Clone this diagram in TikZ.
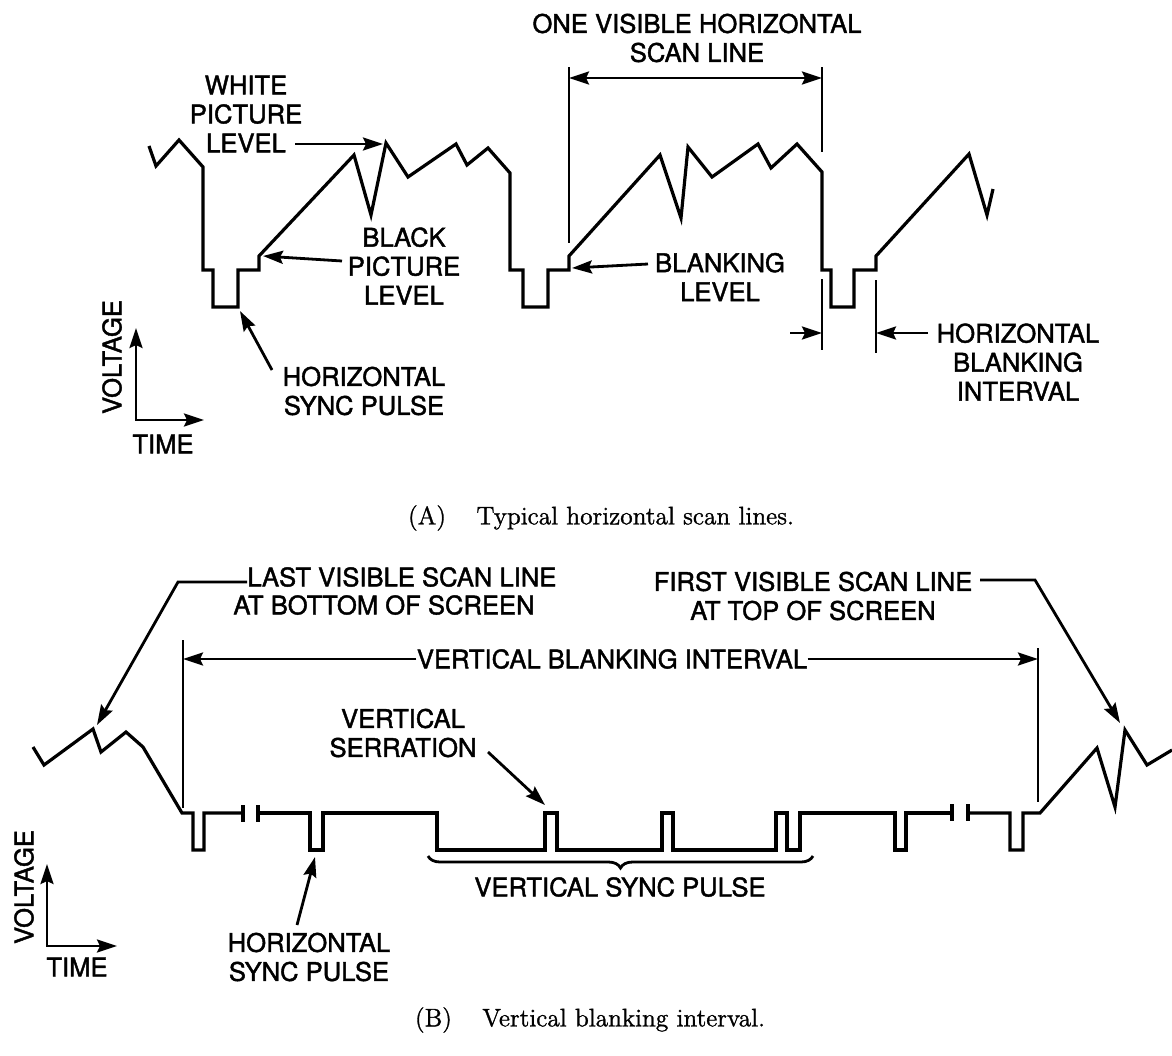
\documentclass[tikz,border=0pt]{standalone}
\usepackage{fontspec}
\newfontfamily\lab[FakeBold=1.6]{TeX Gyre Heros}
\newfontfamily\capf[FakeBold=1.2]{Latin Modern Roman}
\usetikzlibrary{arrows.meta,decorations.pathreplacing}
\begin{document}
\begin{tikzpicture}[x=0.5pt,y=-0.5pt,
  wave/.style={line width=1.6pt},
  lead/.style={line width=1.4pt},
  myarr/.tip={Stealth[length=10pt,width=6.5pt,inset=1.5pt]},
  arr/.style={lead,-myarr},
  dbl/.style={lead,myarr-myarr},
  ext/.style={line width=1.4pt},
  lbl/.style={font=\lab\fontsize{12.8pt}{14.5pt}\selectfont, align=center, inner sep=0pt},
  captext/.style={font=\capf\fontsize{12.7pt}{14pt}\selectfont, inner sep=0pt}]
\useasboundingbox (0,0) rectangle (1172,1055);

% ================= (A) =================
\draw[wave] (149,146) -- (156,166) -- (179,140) -- (203,167) -- (203,270) -- (213,270) -- (213,307) -- (238,307) -- (238,270) -- (259,270) -- (259,256)
  -- (354,155) -- (371,215) -- (386,143) -- (408,177) -- (456,144) -- (467,165) -- (488,148) -- (510,173) -- (510,270) -- (523,270) -- (523,307) -- (548,307) -- (548,270) -- (569,270) -- (569,256)
  -- (660,155) -- (681,218) -- (688,147) -- (712,177) -- (758,144) -- (771,168) -- (797,144) -- (822,172) -- (822,270) -- (831,270) -- (831,307) -- (854,307) -- (854,270) -- (876,270) -- (876,256)
  -- (969,154) -- (987,215) -- (993,189);

% one visible scan line dimension
\draw[ext] (569,67) -- (569,243);
\draw[ext] (822,67) -- (822,152);
\coordinate (d1) at (569,78);
\coordinate (d2) at (822,78);
\draw[dbl] (d1) -- (d2);
\node[lbl] (onevis) at (697,38) {ONE VISIBLE HORIZONTAL\\SCAN LINE};

% white picture level
\node[lbl] (white) at (246,114) {WHITE\\PICTURE\\LEVEL};
\coordinate (w1) at (295,144);
\coordinate (w2) at (383,144);
\draw[arr] (w1) -- (w2);

% black picture level
\node[lbl] (black) at (404,266) {BLACK\\PICTURE\\LEVEL};
\coordinate (b1) at (342,261);
\coordinate (b2) at (263,256);
\draw[arr] (b1) -- (b2);

% blanking level
\node[lbl] (blank) at (720,277) {BLANKING\\LEVEL};
\coordinate (bl1) at (648,264);
\coordinate (bl2) at (572,268);
\draw[arr] (bl1) -- (bl2);

% horizontal sync pulse (A)
\node[lbl] (hsa) at (364,391) {HORIZONTAL\\SYNC PULSE};
\coordinate (h1) at (272,370);
\coordinate (h2) at (240,311);
\draw[arr] (h1) -- (h2);

% horizontal blanking interval
\draw[ext] (822,279) -- (822,350);
\draw[ext] (876,280) -- (876,353);
\node[lbl] (hbi) at (1018,362) {HORIZONTAL\\BLANKING\\INTERVAL};
\coordinate (hb1) at (790,333);
\coordinate (hb2) at (822,333);
\coordinate (hb3) at (928,333);
\coordinate (hb4) at (876,333);
\draw[arr] (hb1) -- (hb2);
\draw[arr] (hb3) -- (hb4);

% axes (A)
\coordinate (ax0) at (136,420);
\coordinate (ax1) at (136,328);
\coordinate (ax2) at (204,420);
\draw[lead,myarr-myarr] (ax1) -- (ax0) -- (ax2);
\node[lbl,rotate=90] (voltA) at (112,357) {VOLTAGE};
\node[lbl] (timeA) at (163,444) {TIME};

\node[captext] (capA) at (601,518) {(A)\hspace{1.2em}Typical horizontal scan lines.};

% ================= (B) =================
\draw[wave] (33,747) -- (44,765) -- (93,729) -- (101,752) -- (126,732) -- (143,747) -- (182,813) -- (193,813) -- (193,850) -- (204,850) -- (204,813) -- (243,813);
\draw[wave] (243,805) -- (243,822);
\draw[wave] (258,805) -- (258,822);
\draw[wave] (258,813) -- (310,813) -- (310,850) -- (323,850) -- (323,813) -- (437,813) -- (437,850) -- (545,850) -- (545,813) -- (557,813) -- (557,850)
  -- (662,850) -- (662,813) -- (673,813) -- (673,850) -- (776,850) -- (776,813) -- (787,813) -- (787,850) -- (800,850) -- (800,813)
  -- (895,813) -- (895,850) -- (906,850) -- (906,813) -- (952,813);
\draw[wave] (952,804) -- (952,821);
\draw[wave] (968,804) -- (968,821);
\draw[wave] (968,813) -- (1010,813) -- (1010,850) -- (1023,850) -- (1023,813) -- (1040,813) -- (1097,748) -- (1115,807) -- (1125,730) -- (1147,765) -- (1172,750);

% vertical blanking interval
\draw[ext] (183,640) -- (183,808);
\draw[ext] (1038,648) -- (1038,802);
\node[lbl] (vbi) at (612,659) {VERTICAL BLANKING INTERVAL};
\coordinate (v1) at (183,659);
\coordinate (v2) at (1038,659);
\draw[arr] (vbi.west) -- (v1);
\draw[arr] (vbi.east) -- (v2);

% last visible scan line
\node[lbl,anchor=west] (last1) at (247,577) {LAST VISIBLE SCAN LINE};
\node[lbl,anchor=west] (last2) at (233,605) {AT BOTTOM OF SCREEN};
\coordinate (l1) at (178,582);
\coordinate (l2) at (97,725);
\draw[arr] (last1.west |- l1) -- (l1) -- (l2);

% first visible scan line
\node[lbl] (first) at (813,596) {FIRST VISIBLE SCAN LINE\\AT TOP OF SCREEN};
\coordinate (f0) at (980,580);
\coordinate (f1) at (1035,580);
\coordinate (f2) at (1120,723);
\draw[arr] (f0) -- (f1) -- (f2);

% vertical serration
\node[lbl] (serr) at (403,733) {VERTICAL\\SERRATION};
\coordinate (s1) at (488,752);
\coordinate (s2) at (545,805);
\draw[arr] (s1) -- (s2);

% vertical sync pulse brace
\draw[lead, decorate, decoration={brace, mirror, amplitude=6pt}] (428,856) -- (813,856);
\node[lbl] (vsp) at (620,887) {VERTICAL SYNC PULSE};

% horizontal sync pulse (B)
\node[lbl] (hsb) at (309,957) {HORIZONTAL\\SYNC PULSE};
\coordinate (hh1) at (297,925);
\coordinate (hh2) at (315,857);
\draw[arr] (hh1) -- (hh2);

% axes (B)
\coordinate (bx0) at (47,946);
\coordinate (bx1) at (47,864);
\coordinate (bx2) at (117,946);
\draw[lead,myarr-myarr] (bx1) -- (bx0) -- (bx2);
\node[lbl,rotate=90] (voltB) at (24,887) {VOLTAGE};
\node[lbl] (timeB) at (77,967) {TIME};

\node[captext] (capB) at (590,1020) {(B)\hspace{1.2em}Vertical blanking interval.};
\end{tikzpicture}
\end{document}
